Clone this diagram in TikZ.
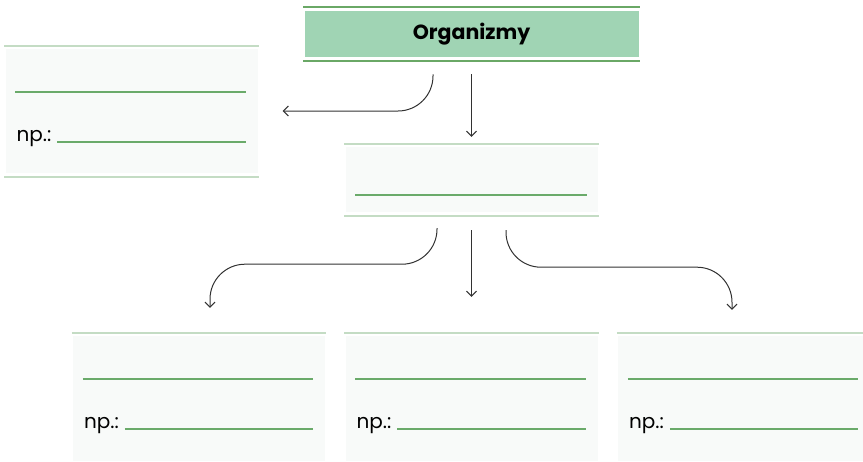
\documentclass[tikz,border=0pt]{standalone}
\usepackage{fontspec}
\setmainfont{Poppins}
\usetikzlibrary{arrows.meta}
\definecolor{headfill}{RGB}{160,212,180}
\definecolor{headrule}{RGB}{106,168,102}
\definecolor{lightrule}{RGB}{196,220,196}
\definecolor{boxfill}{RGB}{248,250,249}
\definecolor{blankline}{RGB}{106,170,106}
\definecolor{arrowgray}{RGB}{50,50,50}

\begin{document}
\begin{tikzpicture}[x=1pt,y=1pt,
    >={Straight Barb[length=5pt,width=10pt]},
    box/.style={fill=boxfill,minimum width=252pt,inner sep=0pt},
    rule/.style={draw=lightrule,line width=2pt},
    blank/.style={draw=blankline,line width=2pt},
    link/.style={->,draw=arrowgray,line width=1pt,rounded corners=35pt},
    every node/.style={font=\fontsize{20}{24}\selectfont}]
\useasboundingbox (0,0) rectangle (863,-461);

\node[box,fill=headfill,minimum width=334pt,minimum height=46pt,
    font=\fontsize{20.5}{24}\selectfont\bfseries] (org) at (471.5,-33.7) {Organizmy};
\node[box,minimum height=124pt] (kind) at (131.5,-111) {};
\node[box,minimum height=65pt,below of=org,node distance=145.8pt] (group) {};
\node[box,minimum height=125pt,below of=group,node distance=219pt] (sub2) {};
\node[box,minimum height=125pt,left of=sub2,node distance=272.5pt] (sub1) {};
\node[box,minimum height=125pt,right of=sub2,node distance=272.5pt] (sub3) {};

% rules above and below the boxes
\draw[rule,draw=headrule] ([xshift=-1pt,yshift=4pt]org.north west) -- ([xshift=1pt,yshift=4pt]org.north east);
\draw[rule,draw=headrule] ([xshift=-1pt,yshift=-4pt]org.south west) -- ([xshift=1pt,yshift=-4pt]org.south east);
\foreach \b in {kind,group} {
    \draw[rule] ([xshift=-1pt,yshift=3pt]\b.north west) -- ([xshift=1pt,yshift=3pt]\b.north east);
    \draw[rule] ([xshift=-1pt,yshift=-4pt]\b.south west) -- ([xshift=1pt,yshift=-4pt]\b.south east);
}
\foreach \b in {sub1,sub2,sub3}
    \draw[rule] ([xshift=-1pt,yshift=3pt]\b.north west) -- ([xshift=1pt,yshift=3pt]\b.north east);

% lines to fill in
\draw[blank] ([xshift=10pt,yshift=-48.5pt]group.north west) -- ([xshift=-11pt,yshift=-48.5pt]group.north east);
\foreach \b in {kind,sub1,sub2,sub3} {
    \draw[blank] ([xshift=10pt,yshift=-43.5pt]\b.north west) -- ([xshift=-12pt,yshift=-43.5pt]\b.north east);
    \node[anchor=base west,inner sep=0pt] (np-\b) at ([xshift=11pt,yshift=-93pt]\b.north west) {np.:};
    \draw[blank] ([xshift=6pt,yshift=-0.5pt]np-\b.base east) -- ([xshift=-12pt,yshift=-93.5pt]\b.north east);
}

% arrows
\draw[link] ([xshift=-38.5pt,yshift=-17.5pt]org.south) |- ([xshift=25pt]kind.east);
\draw[link] ([yshift=-17.5pt]org.south) -- ([yshift=10pt]group.north);
\draw[link] ([xshift=-34.5pt,yshift=-16pt]group.south) -- ++(0,-36) -| ([xshift=11pt,yshift=28pt]sub1.north);
\draw[link] ([yshift=-18pt]group.south) -- ([yshift=39pt]sub2.north);
\draw[link] ([xshift=34.5pt,yshift=-18pt]group.south) -- ++(0,-37) -| ([xshift=-12pt,yshift=26pt]sub3.north);
\end{tikzpicture}
\end{document}
